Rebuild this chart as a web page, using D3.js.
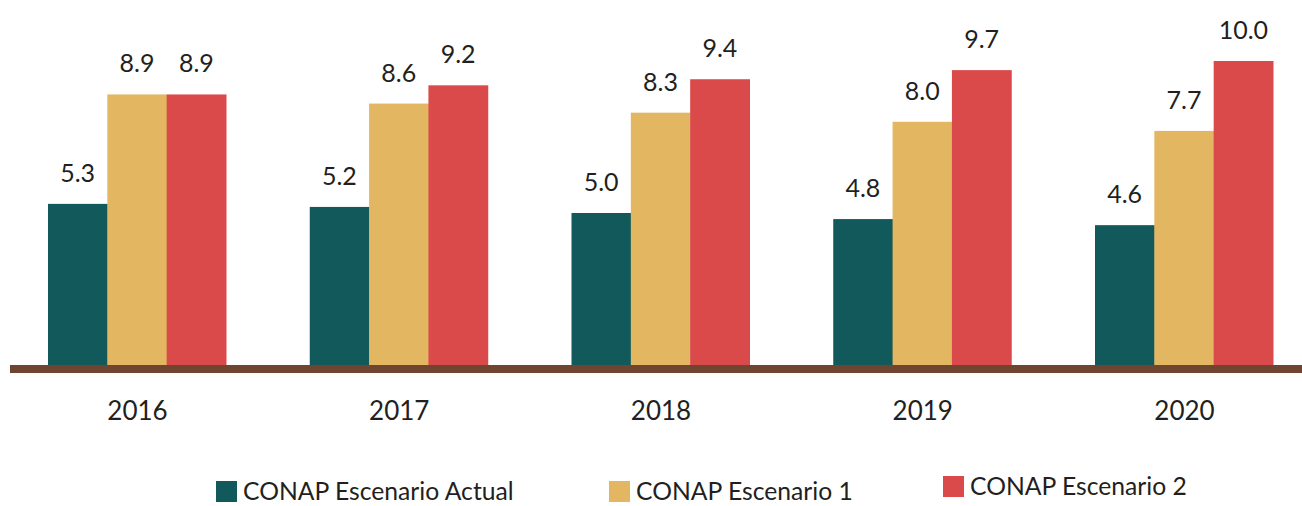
<!DOCTYPE html>
<html>
<head>
<meta charset="utf-8">
<script src="https://cdn.jsdelivr.net/npm/d3@7"></script>
<style>
  html, body { margin: 0; padding: 0; background: #fff; }
  svg text { font-family: Lato, "Open Sans", sans-serif; fill: #231f20; }
</style>
</head>
<body>
<div id="chart"></div>
<script>
// data
var years = ['2016', '2017', '2018', '2019', '2020'];
var seriesNames = ['CONAP Escenario Actual', 'CONAP Escenario 1', 'CONAP Escenario 2'];
var actual = [5.3, 5.2, 5.0, 4.8, 4.6];
var escenario1 = [8.9, 8.6, 8.3, 8.0, 7.7];
var escenario2 = [8.9, 9.2, 9.4, 9.7, 10.0];
var colors = ['#12595b', '#e3b661', '#db4a4b'];

var width = 1302, height = 506;
var baseY = 365;

var svg = d3.select('#chart').append('svg')
  .attr('width', width)
  .attr('height', height);

var x = d3.scalePoint()
  .domain(years)
  .range([137, 1184]);

var xSeries = d3.scaleBand()
  .domain(seriesNames)
  .range([-89, 89]);

var y = d3.scaleLinear()
  .domain([0, 10])
  .range([baseY, 61]);

var color = d3.scaleOrdinal().domain(seriesNames).range(colors);

var rows = [actual, escenario1, escenario2];
var data = [];
years.forEach(function (yr, i) {
  seriesNames.forEach(function (s, j) {
    data.push({ year: yr, series: s, value: rows[j][i] });
  });
});

var bars = svg.append('g');
bars.selectAll('rect')
  .data(data)
  .enter()
  .append('rect')
  .attr('x', function (d) { return x(d.year) + xSeries(d.series); })
  .attr('y', function (d) { return y(d.value); })
  .attr('width', xSeries.bandwidth() + 0.5)
  .attr('height', function (d) { return baseY - y(d.value); })
  .attr('fill', function (d) { return color(d.series); });

bars.selectAll('text')
  .data(data)
  .enter()
  .append('text')
  .attr('x', function (d) { return x(d.year) + xSeries(d.series) + xSeries.bandwidth() / 2; })
  .attr('y', function (d) { return y(d.value) - 22; })
  .attr('text-anchor', 'middle')
  .style('font-size', '25px')
  .text(function (d) { return d.value.toFixed(1); });

// baseline
svg.append('line')
  .attr('x1', 10).attr('x2', width)
  .attr('y1', baseY + 4).attr('y2', baseY + 4)
  .attr('stroke', '#6f4431')
  .attr('stroke-width', 8);

// year labels
var xAxis = d3.axisBottom(x).tickSize(0).tickPadding(0);
var axisG = svg.append('g')
  .attr('transform', 'translate(0,' + 400 + ')')
  .call(xAxis);
axisG.select('.domain').remove();
axisG.selectAll('text')
  .attr('dy', null)
  .attr('y', 20)
  .style('font-size', '26px')
  .style('font-family', 'Lato, "Open Sans", sans-serif')
  .attr('fill', '#231f20');

// legend
var legendX = [216, 609, 943];
var legendY = [481, 481, 476];
var legend = svg.selectAll('.legend')
  .data(seriesNames)
  .enter()
  .append('g')
  .attr('class', 'legend')
  .attr('transform', function (d, i) { return 'translate(' + legendX[i] + ',' + legendY[i] + ')'; });
legend.append('rect')
  .attr('width', 21)
  .attr('height', 21)
  .attr('fill', color);
legend.append('text')
  .attr('x', 27)
  .attr('y', 19)
  .style('font-size', '24.7px')
  .text(function (d) { return d; });
</script>
</body>
</html>
